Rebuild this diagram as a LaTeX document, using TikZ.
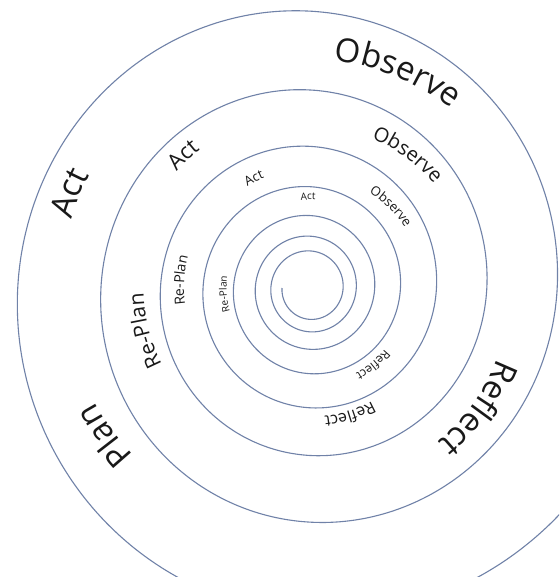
\documentclass[tikz,border=0pt]{standalone}
\usepackage{fontspec}
\setmainfont{Open Sans}
\usetikzlibrary{decorations.text}
\definecolor{spiralcol}{RGB}{112,130,168}
\definecolor{ink}{RGB}{25,25,25}
\tikzset{
  spiralline/.style={draw=spiralcol, line width=1.1pt},
}
\newcommand{\sparclabel}[4]{%
  \pgfmathsetmacro{\rb}{#2-0.36*#3}%
  \pgfmathsetmacro{\sa}{#1+80}%
  \pgfmathsetmacro{\ea}{#1-80}%
  \path[decorate,decoration={text along path,text align=center,
    text={|\fontsize{#3}{#3}\selectfont\color{ink}|#4}}]
    (C) ++(\sa:\rb pt) arc[start angle=\sa,end angle=\ea,radius=\rb pt];%
}
\begin{document}
\begin{tikzpicture}[x=1pt,y=1pt]
\useasboundingbox (0,0) rectangle (559,-577);
\fill[white] (0,0) rectangle (559,-577);
\coordinate (C) at (310,-288);
\begin{scope}
\clip (0,0) rectangle (559,-577);
\draw[spiralline] plot[domain=-180:2520, samples=800, smooth]
  ({310+36*exp(0.000934645*(\x-90))*cos(\x)},
   {-288+1.03*36*exp(0.000934645*(\x-90))*sin(\x)});
\end{scope}
% outer band
\sparclabel{67.9}{240}{33}{Observe}
\sparclabel{-35.5}{212}{33}{Reflect}
\sparclabel{215.7}{255}{33}{Plan}
\sparclabel{158.4}{260}{33}{Act}
% middle band
\sparclabel{133.6}{185}{22}{Act}
\sparclabel{53.8}{169}{20}{Observe}
\sparclabel{194.5}{174}{21}{Re-Plan}
\sparclabel{-72.5}{135}{16}{Reflect}
% small band
\sparclabel{117}{124}{13}{Act}
\sparclabel{45.3}{117}{13}{Observe}
\sparclabel{176.5}{131}{14}{Re-Plan}
\sparclabel{-50.6}{101}{12}{Reflect}
% tiny band
\sparclabel{91.2}{92}{10}{Act}
\sparclabel{184}{87}{10}{Re-Plan}
\end{tikzpicture}
\end{document}
